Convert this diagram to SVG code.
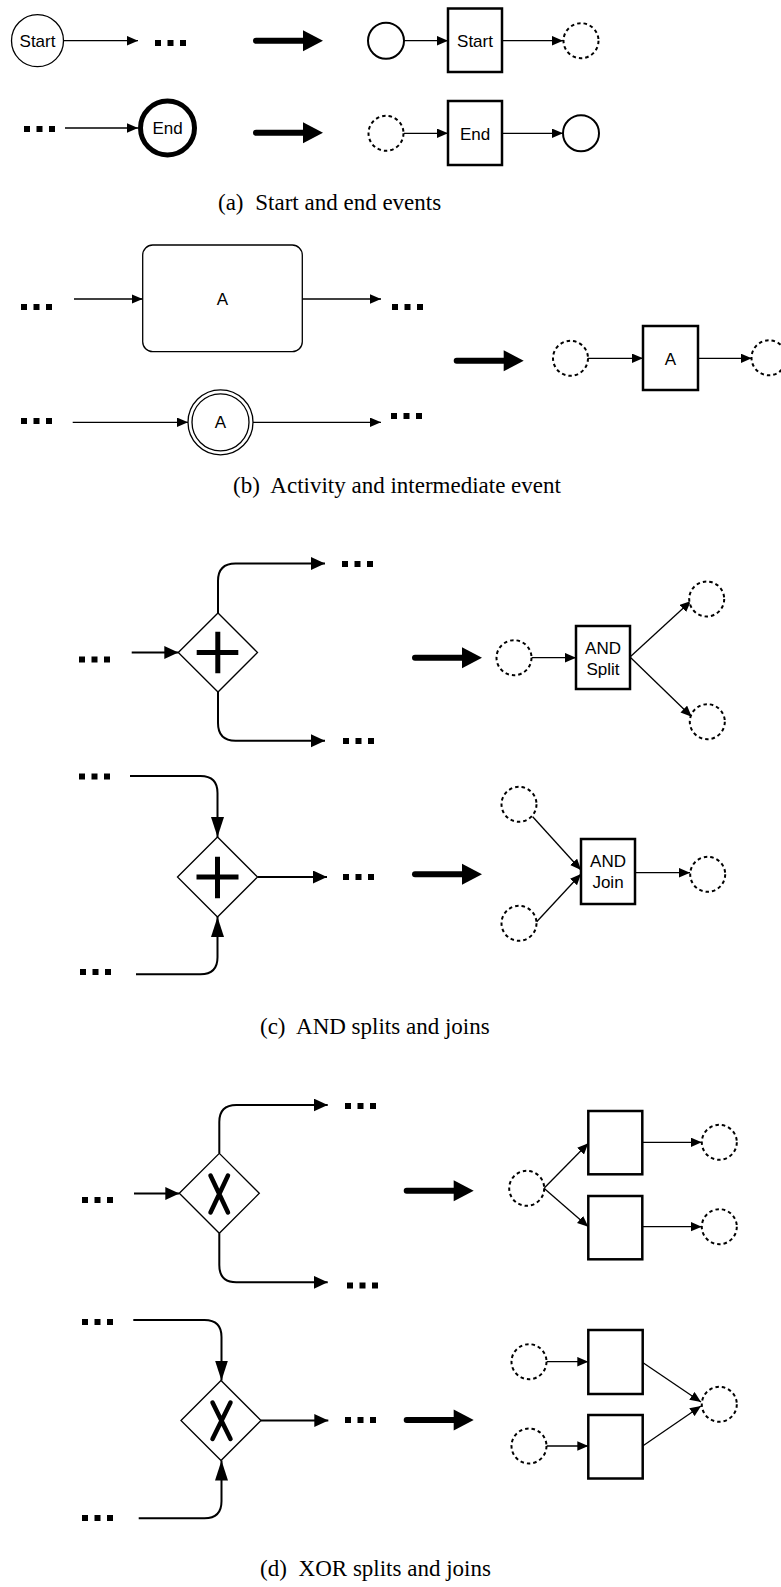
<svg xmlns="http://www.w3.org/2000/svg" xmlns:xlink="http://www.w3.org/1999/xlink" width="781" height="1587" viewBox="0 0 781 1587">
<style>
.bg{fill:#fff}
.thin{fill:none;stroke:#000;stroke-width:1.3}
.gw{fill:none;stroke:#000;stroke-width:2}
.box{fill:#fff;stroke:#000;stroke-width:2.5}
.dash{fill:#fff;stroke:#000;stroke-width:2;stroke-dasharray:3.5 3}
.solid{fill:#fff;stroke:#000;stroke-width:2}
.dia{fill:#fff;stroke:#000;stroke-width:1.3}
.sym{fill:none;stroke:#000;stroke-width:5}
.xs{fill:none;stroke:#000;stroke-width:4.5;stroke-linecap:round}
.lbl{font-family:"Liberation Sans",Arial,sans-serif;font-size:17px;text-anchor:middle;fill:#000}
.cap{font-family:"Liberation Serif","Times New Roman",serif;font-size:23px;fill:#000}
.big{stroke:#000;stroke-width:6;stroke-linecap:round;fill:none}
</style>
<defs>
<marker id="a1" markerUnits="userSpaceOnUse" markerWidth="12" markerHeight="10" refX="11" refY="4.75" orient="auto"><path d="M0,0 L11,4.75 L0,9.5 Z" fill="#000"/></marker>
<marker id="a2" markerUnits="userSpaceOnUse" markerWidth="15" markerHeight="14" refX="14" refY="6.5" orient="auto"><path d="M0,0 L14,6.5 L0,13 Z" fill="#000"/></marker>
<marker id="a2v" markerUnits="userSpaceOnUse" markerWidth="21" markerHeight="14" refX="20" refY="6.5" orient="auto"><path d="M0,0 L20,6.5 L0,13 Z" fill="#000"/></marker>
<g id="dots"><rect x="0" y="0" width="6" height="6"/><rect x="12.5" y="0" width="6" height="6"/><rect x="25" y="0" width="6" height="6"/></g>
<g id="bigarrow"><path class="big" d="M256,0 H305"/><path d="M303,-10.5 L323,0 L303,10.5 Z" fill="#000"/></g>
</defs>
<rect class="bg" x="0" y="0" width="781" height="1587"/>

<!-- connectors -->
<g id="connectors">
<path class="thin" d="M63.5,40.7 H138" marker-end="url(#a1)"/>
<path class="thin" d="M404,40.7 H448" marker-end="url(#a1)"/>
<path class="thin" d="M502,40.7 H563" marker-end="url(#a1)"/>
<path class="thin" d="M65,128 H138" marker-end="url(#a1)"/>
<path class="thin" d="M404,133.3 H448" marker-end="url(#a1)"/>
<path class="thin" d="M502,133.3 H563" marker-end="url(#a1)"/>

<path class="thin" d="M74,299 H142.7" marker-end="url(#a1)"/>
<path class="thin" d="M302.3,299 H381" marker-end="url(#a1)"/>
<path class="thin" d="M72.7,422.3 H188" marker-end="url(#a1)"/>
<path class="thin" d="M253,422.3 H381" marker-end="url(#a1)"/>
<path class="thin" d="M588,358.3 H643" marker-end="url(#a1)"/>
<path class="thin" d="M698,358.3 H751.7" marker-end="url(#a1)"/>

<path class="gw" d="M131.7,652.5 H178.3" marker-end="url(#a2)"/>
<path class="gw" d="M218,613 V581 Q218,563.5 235.5,563.5 H325" marker-end="url(#a2)"/>
<path class="gw" d="M218,692 V723 Q218,740.7 235.5,740.7 H325" marker-end="url(#a2)"/>
<path class="thin" d="M531.5,657.7 H576" marker-end="url(#a1)"/>
<path class="thin" d="M630,657 L691,601" marker-end="url(#a1)"/>
<path class="thin" d="M630,657 L691.7,716.7" marker-end="url(#a1)"/>

<path class="gw" d="M130,776 H200.5 Q217.5,776 217.5,793 V837" marker-end="url(#a2v)"/>
<path class="gw" d="M136,974.3 H200.5 Q217.5,974.3 217.5,957.3 V917" marker-end="url(#a2v)"/>
<path class="gw" d="M257.5,877 H327" marker-end="url(#a2)"/>
<path class="thin" d="M532.7,816.7 L581,870" marker-end="url(#a1)"/>
<path class="thin" d="M536.7,921.7 L581,874" marker-end="url(#a1)"/>
<path class="thin" d="M635,872.7 H690" marker-end="url(#a1)"/>

<path class="gw" d="M134,1193.5 H179.3" marker-end="url(#a2)"/>
<path class="gw" d="M219.3,1153.3 V1122 Q219.3,1105 236.3,1105 H327.7" marker-end="url(#a2)"/>
<path class="gw" d="M219.3,1233.3 V1265 Q219.3,1282.3 236.3,1282.3 H327.7" marker-end="url(#a2)"/>
<path class="thin" d="M544,1188.3 L588.3,1143.3" marker-end="url(#a1)"/>
<path class="thin" d="M544,1188.3 L588.3,1226.7" marker-end="url(#a1)"/>
<path class="thin" d="M642.3,1142.3 H701.7" marker-end="url(#a1)"/>
<path class="thin" d="M642.3,1226.7 H701.7" marker-end="url(#a1)"/>

<path class="gw" d="M133.3,1320 H204.5 Q221.5,1320 221.5,1337 V1380.5" marker-end="url(#a2v)"/>
<path class="gw" d="M138.7,1518.3 H204.5 Q221.5,1518.3 221.5,1501.3 V1460.5" marker-end="url(#a2v)"/>
<path class="gw" d="M261,1420.5 H328.3" marker-end="url(#a2)"/>
<path class="thin" d="M546.5,1361.7 H588.3" marker-end="url(#a1)"/>
<path class="thin" d="M546.5,1446 H588.3" marker-end="url(#a1)"/>
<path class="thin" d="M642.7,1362.5 L701,1402" marker-end="url(#a1)"/>
<path class="thin" d="M642.7,1446 L701,1406" marker-end="url(#a1)"/>

<use xlink:href="#bigarrow" href="#bigarrow" x="0" y="40.7"/>
<use xlink:href="#bigarrow" href="#bigarrow" x="0" y="132.7"/>
<use xlink:href="#bigarrow" href="#bigarrow" x="200.7" y="360.7"/>
<use xlink:href="#bigarrow" href="#bigarrow" x="159" y="657.7"/>
<use xlink:href="#bigarrow" href="#bigarrow" x="159" y="874.3"/>
<use xlink:href="#bigarrow" href="#bigarrow" x="150.7" y="1190.7"/>
<use xlink:href="#bigarrow" href="#bigarrow" x="150.7" y="1420"/>
</g>

<!-- (a) -->
<g id="start-event"><circle class="thin" cx="37.5" cy="40.7" r="26" fill="#fff"/><text class="lbl" x="37.5" y="46.7">Start</text></g>
<g id="dots-a1"><use xlink:href="#dots" href="#dots" x="155" y="40"/></g>
<g id="a-circle1"><circle class="solid" cx="386" cy="40.7" r="18"/></g>
<g id="start-task"><rect class="box" x="448" y="8.5" width="54" height="63.5"/><text class="lbl" x="475" y="46.5">Start</text></g>
<g id="a-place1"><circle class="dash" cx="581" cy="40.7" r="17.5"/></g>
<g id="dots-a2"><use xlink:href="#dots" href="#dots" x="24" y="126"/></g>
<g id="end-event"><circle cx="167.5" cy="128" r="27" fill="#fff" stroke="#000" stroke-width="5"/><text class="lbl" x="167.5" y="134">End</text></g>
<g id="a-place2"><circle class="dash" cx="386" cy="133.3" r="17.5"/></g>
<g id="end-task"><rect class="box" x="448" y="101" width="54" height="64"/><text class="lbl" x="475" y="139.5">End</text></g>
<g id="a-circle2"><circle class="solid" cx="581" cy="133.3" r="18"/></g>
<text class="cap" x="218" y="210">(a) <tspan dx="6">Start and end events</tspan></text>

<!-- (b) -->
<g id="dots-b1"><use xlink:href="#dots" href="#dots" x="21" y="304"/></g>
<g id="activity-a"><rect class="thin" x="142.7" y="245" width="159.6" height="106.7" rx="10" fill="#fff"/><text class="lbl" x="222.5" y="305">A</text></g>
<g id="dots-b2"><use xlink:href="#dots" href="#dots" x="392" y="304"/></g>
<g id="dots-b3"><use xlink:href="#dots" href="#dots" x="21" y="418"/></g>
<g id="intermediate-a"><circle class="thin" cx="220.5" cy="422.3" r="32.5" fill="#fff"/><circle class="thin" cx="220.5" cy="422.3" r="28.5"/><text class="lbl" x="220.5" y="428.3">A</text></g>
<g id="dots-b4"><use xlink:href="#dots" href="#dots" x="391" y="413"/></g>
<g id="b-place1"><circle class="dash" cx="570.5" cy="358.3" r="17.5"/></g>
<g id="task-a"><rect class="box" x="643" y="326" width="55" height="64"/><text class="lbl" x="670.5" y="364.5">A</text></g>
<g id="b-place2"><circle class="dash" cx="769" cy="357.8" r="17.5"/></g>
<text class="cap" x="233" y="493">(b) <tspan dx="6">Activity and intermediate event</tspan></text>

<!-- (c) -->
<g id="dots-c1"><use xlink:href="#dots" href="#dots" x="79" y="656.5"/></g>
<g id="and-split-gw"><polygon class="dia" points="178.3,652.5 218,613 257.5,652.5 218,692"/><path class="sym" d="M196.7,652.5 H238.3 M217.8,631.7 V673.3"/></g>
<g id="dots-c2"><use xlink:href="#dots" href="#dots" x="342" y="561"/></g>
<g id="dots-c3"><use xlink:href="#dots" href="#dots" x="343" y="738"/></g>
<g id="c-place1"><circle class="dash" cx="514" cy="657.7" r="17.5"/></g>
<g id="and-split-task"><rect class="box" x="576" y="626" width="54" height="63"/><text class="lbl" x="603" y="653.5">AND</text><text class="lbl" x="603" y="675">Split</text></g>
<g id="c-place2"><circle class="dash" cx="706.7" cy="599" r="17.5"/></g>
<g id="c-place3"><circle class="dash" cx="707.3" cy="721.7" r="17.5"/></g>

<g id="dots-c4"><use xlink:href="#dots" href="#dots" x="79" y="773.5"/></g>
<g id="and-join-gw"><polygon class="dia" points="177.5,877 217.5,837 257.5,877 217.5,917"/><path class="sym" d="M196.5,877 H238.5 M217.5,856.7 V898.3"/></g>
<g id="dots-c5"><use xlink:href="#dots" href="#dots" x="343" y="874"/></g>
<g id="dots-c6"><use xlink:href="#dots" href="#dots" x="80" y="969"/></g>
<g id="c-place4"><circle class="dash" cx="519" cy="804.3" r="17.5"/></g>
<g id="c-place5"><circle class="dash" cx="519" cy="923.3" r="17.5"/></g>
<g id="and-join-task"><rect class="box" x="581" y="839" width="54" height="65"/><text class="lbl" x="608" y="866.5">AND</text><text class="lbl" x="608" y="888">Join</text></g>
<g id="c-place6"><circle class="dash" cx="707.7" cy="874.3" r="17.5"/></g>
<text class="cap" x="260" y="1034">(c) <tspan dx="6">AND splits and joins</tspan></text>

<!-- (d) -->
<g id="dots-d1"><use xlink:href="#dots" href="#dots" x="82" y="1197"/></g>
<g id="xor-split-gw"><polygon class="dia" points="179.3,1193.3 219.3,1153.3 259.3,1193.3 219.3,1233.3"/><path class="xs" d="M210.5,1175.5 L228,1212.5 M228,1175.5 L210.5,1212.5"/></g>
<g id="dots-d2"><use xlink:href="#dots" href="#dots" x="345" y="1103"/></g>
<g id="dots-d3"><use xlink:href="#dots" href="#dots" x="347" y="1282.5"/></g>
<g id="d-place1"><circle class="dash" cx="526.7" cy="1188.3" r="17.5"/></g>
<g id="d-task1"><rect class="box" x="588.3" y="1111" width="54" height="63.3"/></g>
<g id="d-task2"><rect class="box" x="588.3" y="1196" width="54" height="63.3"/></g>
<g id="d-place2"><circle class="dash" cx="719.3" cy="1142.3" r="17.5"/></g>
<g id="d-place3"><circle class="dash" cx="719.3" cy="1226.7" r="17.5"/></g>

<g id="dots-d4"><use xlink:href="#dots" href="#dots" x="82" y="1319"/></g>
<g id="xor-join-gw"><polygon class="dia" points="181,1420.5 221,1380.5 261,1420.5 221,1460.5"/><path class="xs" d="M212.5,1402.5 L230.5,1439 M230.5,1402.5 L212.5,1439"/></g>
<g id="dots-d5"><use xlink:href="#dots" href="#dots" x="345" y="1417"/></g>
<g id="dots-d6"><use xlink:href="#dots" href="#dots" x="82" y="1515"/></g>
<g id="d-place4"><circle class="dash" cx="529" cy="1361.7" r="17.5"/></g>
<g id="d-place5"><circle class="dash" cx="529" cy="1446" r="17.5"/></g>
<g id="d-task3"><rect class="box" x="588.3" y="1330" width="54.4" height="64"/></g>
<g id="d-task4"><rect class="box" x="588.3" y="1415" width="54.4" height="63.5"/></g>
<g id="d-place6"><circle class="dash" cx="719.3" cy="1404.3" r="17.5"/></g>
<text class="cap" x="260" y="1576">(d) <tspan dx="6">XOR splits and joins</tspan></text>
</svg>
